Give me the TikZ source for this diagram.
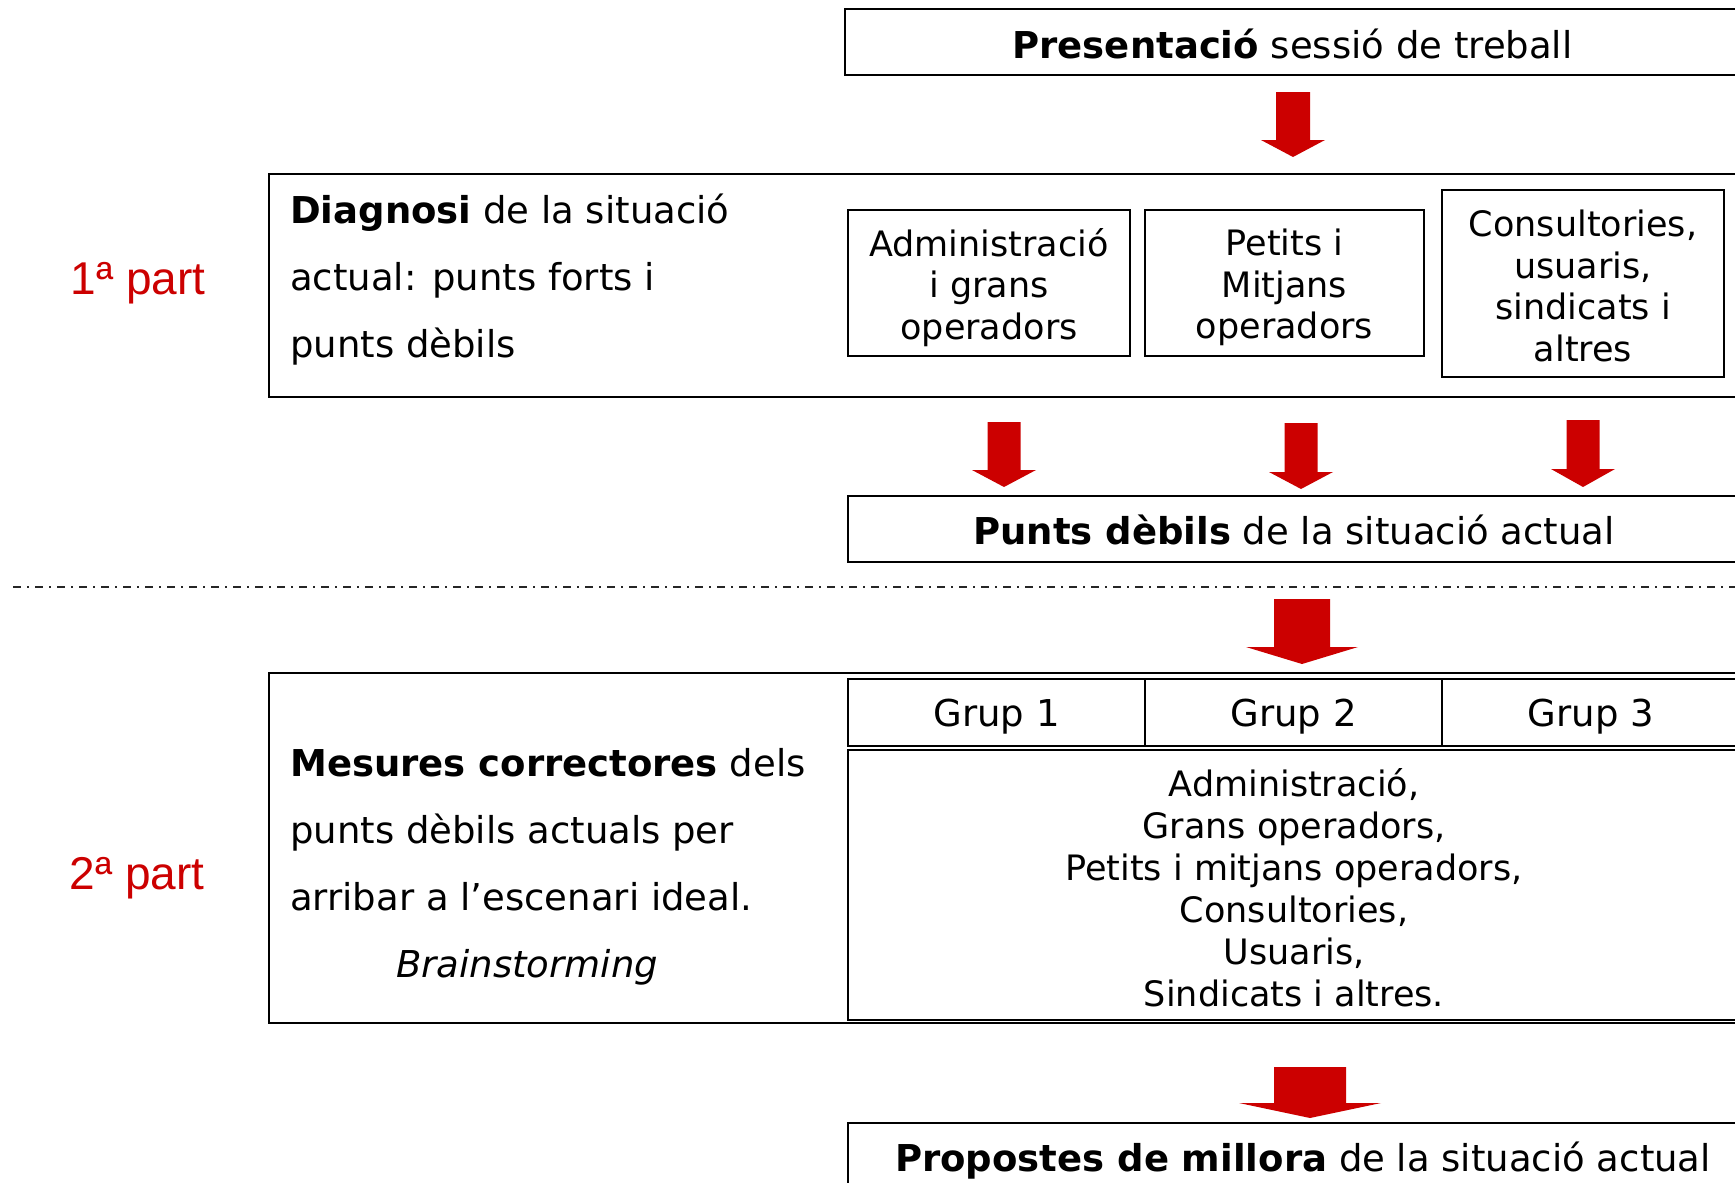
\documentclass[tikz,border=0pt]{standalone}
\usepackage{fontspec}
\setmainfont{DejaVu Sans}
\newfontfamily\partfont{Liberation Sans}
\definecolor{arrowred}{HTML}{CC0000}
\newcommand\blkarrow[6]{% cx, shaft half, head half, top, base, tip
  \fill[arrowred] ({#1-#2},#4) -- ({#1+#2},#4) -- ({#1+#2},#5) -- ({#1+#3},#5)
    -- (#1,#6) -- ({#1-#3},#5) -- ({#1-#2},#5) -- cycle;}
\begin{document}
\begin{tikzpicture}[x=1pt,y=-1pt,
  box/.style={draw, line width=2pt, inner sep=0pt},
  lbl/.style={inner sep=0pt, align=center},
  big/.style={font=\fontsize{37}{44}\selectfont},
  small/.style={font=\fontsize{35}{41.5}\selectfont},
  para/.style={font=\fontsize{37}{67}\selectfont, align=left, anchor=west, inner sep=0pt},
  part/.style={font=\partfont\fontsize{46}{50}\selectfont, text=arrowred, inner sep=0pt}]
\path[use as bounding box] (0,0) rectangle (1735,1183);
\clip (0,0) rectangle (1735,1183);
\fill[white] (0,0) rectangle (1735,1183);

% top box
\node[box, minimum width=895pt, minimum height=66pt] (pres) at (1292.5,42) {};
\node[lbl, big, yshift=-2pt] (prestxt) at (pres.center) {\textbf{Presentació} sessió de treball};
\blkarrow{1293}{17}{32}{92}{140}{157}

% part 1
\node[box, minimum width=1471pt, minimum height=223pt] (diag) at (1004.5,285.5) {};
\node[para] (diagtxt) at (290,279.5) {\textbf{Diagnosi} de la situació\\actual: punts forts i\\punts dèbils};
\node[box, minimum width=282pt, minimum height=146pt] (admin) at (989,283) {};
\node[lbl, small, yshift=-4.5pt] (admintxt) at (admin.center) {Administració\\i grans\\operadors};
\node[box, minimum width=279pt, minimum height=146pt] (petits) at (1284.5,283) {};
\node[lbl, small, yshift=-4.5pt] (petitstxt) at (petits.center) {Petits i\\Mitjans\\operadors};
\node[box, minimum width=282pt, minimum height=187pt] (consult) at (1583,283.5) {};
\node[lbl, small, yshift=-2.5pt] (consulttxt) at (consult.center) {Consultories,\\usuaris,\\sindicats i\\altres};
\node[part] (p1) at (138,283.5) {1ª part};

\blkarrow{1004}{16.5}{32}{422}{470}{487}
\blkarrow{1301}{16.5}{32}{423}{472}{489}
\blkarrow{1583}{16.5}{32}{420}{469}{487}

\node[box, minimum width=892pt, minimum height=66pt] (debils) at (1294,529) {};
\node[lbl, big, yshift=-1pt] (debilstxt) at (debils.center) {\textbf{Punts dèbils} de la situació actual};

% separator
\coordinate (sepL) at (13,587);
\coordinate (sepR) at (1735,587);
\draw[line width=2pt, black!85, dash pattern=on 8pt off 6pt on 2pt off 6pt] (sepL) -- (sepR);

\blkarrow{1302}{28}{56}{599}{647}{664}

% part 2
\node[box, minimum width=1471pt, minimum height=350pt] (mes) at (1004.5,848) {};
\node[para] (mestxt) at (290,866.5) {\textbf{Mesures correctores} dels\\punts dèbils actuals per\\arribar a l’escenari ideal.\\\hspace*{106pt}\textit{Brainstorming}};
\node[box, minimum width=297pt, minimum height=67pt] (g1) at (996.5,712.5) {};
\node[box, minimum width=297pt, minimum height=67pt] (g2) at (1293.5,712.5) {};
\node[box, minimum width=298pt, minimum height=67pt] (g3) at (1591,712.5) {};
\node[lbl, big, yshift=-4.5pt] (g1txt) at (g1.center) {Grup 1};
\node[lbl, big, yshift=-4.5pt] (g2txt) at (g2.center) {Grup 2};
\node[lbl, big, yshift=-4.5pt] (g3txt) at (g3.center) {Grup 3};
\node[box, minimum width=892pt, minimum height=270pt] (list) at (1294,885) {};
\node[lbl, font=\fontsize{35}{42}\selectfont, yshift=-2.5pt] (listtxt) at (list.center)
  {Administració,\\Grans operadors,\\Petits i mitjans operadors,\\Consultories,\\Usuaris,\\Sindicats i altres.};
\node[part] (p2) at (137,878.5) {2ª part};

\blkarrow{1310}{36}{71}{1067}{1103}{1118}

\node[box, minimum width=892pt, minimum height=72pt] (prop) at (1294,1159) {};
\node[lbl, big, xshift=9pt, yshift=-2pt] (proptxt) at (prop.center) {\textbf{Propostes de millora} de la situació actual};
\end{tikzpicture}
\end{document}
